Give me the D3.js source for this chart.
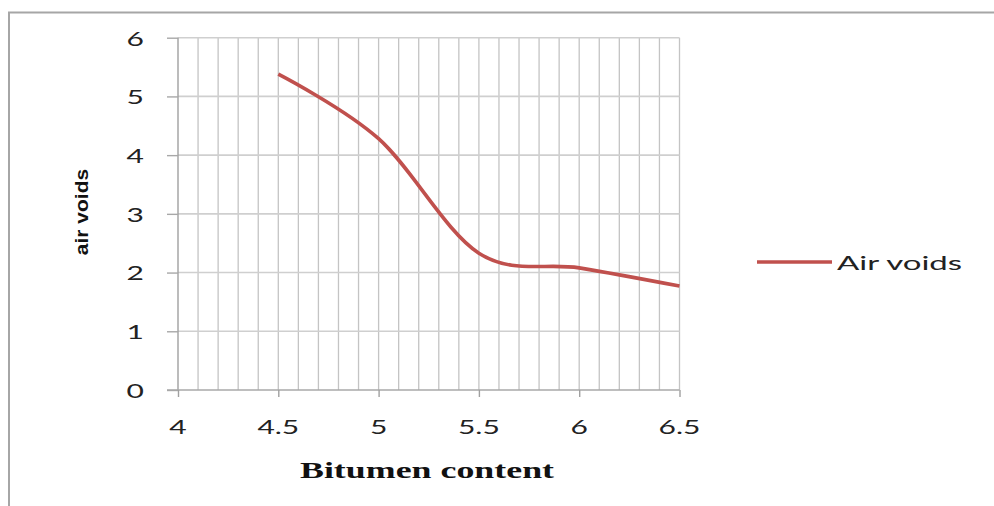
<!DOCTYPE html>
<html>
<head>
<meta charset="utf-8">
<script src="https://cdn.jsdelivr.net/npm/d3@7"></script>
<style>
  html, body { margin: 0; padding: 0; background: #fff; }
  svg { display: block; }
</style>
</head>
<body>
<svg id="chart" width="994" height="506"></svg>
<script>
// Air voids measured against bitumen content
const bitumenContent = [4.5, 5.0, 5.5, 6.0, 6.5];
const airVoids = [5.38, 4.28, 2.33, 2.08, 1.77];
const xTickValues = [4, 4.5, 5, 5.5, 6, 6.5];
const xTickLabels = ["4", "4.5", "5", "5.5", "6", "6.5"];
const yTickValues = [0, 1, 2, 3, 4, 5, 6];
const seriesName = "Air voids";
const xTitle = "Bitumen content";
const yTitle = "air voids";

const svg = d3.select("#chart");
const sx = 1.5; // wide text proportions used throughout the chart

// chart frame (top and left edges)
svg.append("path")
  .attr("d", "M9,506 L9,12.5 L994,12.5")
  .attr("fill", "none")
  .attr("stroke", "#a6a6a6")
  .attr("stroke-width", 2);

const x = d3.scaleLinear().domain([4, 6.5]).range([178, 679.5]);
const y = d3.scaleLinear().domain([0, 6]).range([390, 37.7]);

// minor vertical gridlines every 0.1
const minor = d3.range(41, 66).map(v => v / 10);
svg.append("g")
  .selectAll("line")
  .data(minor)
  .join("line")
  .attr("x1", d => x(d)).attr("x2", d => x(d))
  .attr("y1", y(6)).attr("y2", y(0))
  .attr("stroke", "#c4c4c4")
  .attr("stroke-width", 1.3);

// horizontal gridlines at each integer
svg.append("g")
  .selectAll("line")
  .data(yTickValues.slice(1))
  .join("line")
  .attr("x1", x(4)).attr("x2", x(6.5))
  .attr("y1", d => y(d)).attr("y2", d => y(d))
  .attr("stroke", "#cfcfcf")
  .attr("stroke-width", 1.6);

// y axis with outward ticks
const yAxis = svg.append("g")
  .attr("transform", `translate(${x(4)},0)`)
  .call(d3.axisLeft(y).tickValues(yTickValues).tickSize(11).tickFormat(""));
yAxis.select(".domain").attr("stroke", "#a0a0a0").attr("stroke-width", 1.4)
  .attr("d", `M0,${y(6)}V${y(0) + 1}`);
yAxis.selectAll(".tick line").attr("stroke", "#a8a8a8").attr("stroke-width", 1.4);

// x axis with outward ticks at major values
const xAxis = svg.append("g")
  .attr("transform", `translate(0,${y(0)})`)
  .call(d3.axisBottom(x).tickValues(xTickValues).tickSize(7).tickFormat(""));
xAxis.select(".domain").attr("stroke", "#a8a8a8").attr("stroke-width", 1.4)
  .attr("d", `M${x(4) - 11},0H${x(6.5)}`);
xAxis.selectAll(".tick line").attr("stroke", "#a0a0a0").attr("stroke-width", 1.4);

// helper for horizontally widened text
function wideText(parent, str, px, py, opts) {
  const t = parent.append("text")
    .attr("transform", `translate(${px},${py}) scale(${opts.sx || sx},1)${opts.rotate ? " rotate(" + opts.rotate + ")" : ""}`)
    .attr("font-family", opts.family || "Lato, 'DejaVu Sans', sans-serif")
    .attr("font-size", opts.size || 20)
    .attr("font-weight", opts.weight || "normal")
    .attr("fill", opts.fill || "#222")
    .attr("text-anchor", opts.anchor || "middle")
    .attr("dominant-baseline", "central")
    .text(str);
  return t;
}

// y tick labels
const yLabels = svg.append("g");
yTickValues.forEach(v => {
  wideText(yLabels, String(v), 144, y(v), { anchor: "end" });
});

// x tick labels
const xLabels = svg.append("g");
xTickValues.forEach((v, i) => {
  wideText(xLabels, xTickLabels[i], x(v), 426, { anchor: "middle" });
});

// data line, smoothed
const line = d3.line()
  .x((d, i) => x(bitumenContent[i]))
  .y(d => y(d))
  .curve(d3.curveCardinal.tension(0));
svg.append("path")
  .datum(airVoids)
  .attr("d", line)
  .attr("fill", "none")
  .attr("stroke", "#c0504d")
  .attr("stroke-width", 3.6)
  .attr("stroke-linecap", "butt");

// legend
const legend = svg.append("g");
legend.append("line")
  .attr("x1", 757).attr("x2", 832)
  .attr("y1", 262).attr("y2", 262)
  .attr("stroke", "#c0504d").attr("stroke-width", 3.6);
wideText(legend, seriesName, 837, 262, { anchor: "start", sx: 1.65 });

// axis titles
wideText(svg, xTitle, 427, 470, {
  family: "'Liberation Serif', 'Times New Roman', serif",
  weight: "bold", size: 23, fill: "#111", sx: 1.56
});
wideText(svg, yTitle, 81, 212, {
  family: "'Liberation Sans Narrow', 'Liberation Sans', Arial, sans-serif",
  weight: "bold", size: 21, fill: "#111", sx: 0.9, rotate: -90
});
</script>
</body>
</html>
